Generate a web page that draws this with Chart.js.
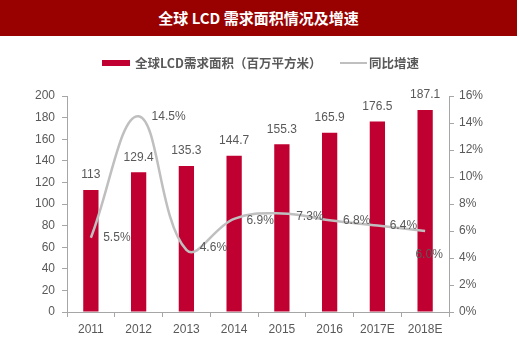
<!DOCTYPE html>
<html><head><meta charset="utf-8">
<script src="https://cdn.jsdelivr.net/npm/chart.js@4/dist/chart.umd.min.js"></script>
<style>
html,body{margin:0;padding:0;background:#fff;}
#wrap{position:relative;width:520px;height:356px;overflow:hidden;}
#c{position:absolute;left:0;top:0;}
#title{position:absolute;left:0;top:0;width:517px;height:36px;background:#990000;color:#fff;
font:bold 15px "Noto Sans CJK SC",sans-serif;text-align:center;line-height:36px;}
#legend{position:absolute;left:0;top:54px;width:520px;height:18px;font:bold 12.5px "Noto Sans CJK SC",sans-serif;color:#595959;}
.it{position:absolute;top:0;line-height:18px;white-space:nowrap;}
.sw{position:absolute;}
</style></head>
<body><div id="wrap"><canvas id="c" width="520" height="356"></canvas>
<div id="title">全球 LCD 需求面积情况及增速</div>
<div id="legend">
<div class="sw" style="left:102px;top:6px;width:28px;height:6px;background:#C00030"></div>
<div class="it" style="left:135px">全球LCD需求面积（百万平方米）</div>
<div class="sw" style="left:340px;top:8px;width:27px;height:2px;background:#BFBFBF"></div>
<div class="it" style="left:369px">同比增速</div>
</div>
</div>
<script>
const categories = ['2011','2012','2013','2014','2015','2016','2017E','2018E'];
const areaValues = [113,129.4,135.3,144.7,155.3,165.9,176.5,187.1];
const growthValues = [5.5,14.5,4.6,6.9,7.3,6.8,6.4,6.0];
const leftTickMax = 200, leftTickStep = 20;
const rightTickMax = 16, rightTickStep = 2;

const textColor = '#595959';
const axisColor = '#A6A6A6';
const tickFont = {family:'"Liberation Sans", Arial, sans-serif', size:12};
const lineLabelOffsets = [[26,0],[30,0],[27,-2],[26,2],[28,3],[27,0],[26,0],[4,24]];

const labelPlugin = {
  id:'labels',
  afterDatasetsDraw(chart){
    const ctx = chart.ctx;
    ctx.save();
    ctx.font = '12px "Liberation Sans", Arial, sans-serif';
    ctx.fillStyle = textColor;
    ctx.textAlign = 'center';
    ctx.textBaseline = 'middle';
    const barMeta = chart.getDatasetMeta(0);
    barMeta.data.forEach((el,i)=>{
      ctx.fillText(String(areaValues[i]), el.x, el.y - 15);
    });
    const lineMeta = chart.getDatasetMeta(1);
    lineMeta.data.forEach((el,i)=>{
      const o = lineLabelOffsets[i];
      ctx.fillText(growthValues[i].toFixed(1)+'%', el.x + o[0], el.y + o[1]);
    });
    ctx.restore();
  }
};

new Chart(document.getElementById('c'), {
  data:{
    labels:categories,
    datasets:[
      {type:'bar', data:areaValues, backgroundColor:'#C00030', yAxisID:'y', order:2,
       categoryPercentage:1, barPercentage:0.32},
      {type:'line', data:growthValues, borderColor:'#BFBFBF', borderWidth:2.5, pointRadius:0,
       tension:0.4, yAxisID:'y2', order:1, fill:false}
    ]
  },
  options:{
    responsive:false, animation:false,
    layout:{padding:{top:96,left:0,right:0,bottom:0}},
    plugins:{legend:{display:false}, tooltip:{enabled:false}},
    scales:{
      x:{
        grid:{display:true, drawOnChartArea:false, drawTicks:true, tickLength:5, color:axisColor, offset:true},
        border:{color:axisColor},
        ticks:{color:textColor, font:tickFont, padding:5, maxRotation:0},
        afterFit(s){ s.height = 44; }
      },
      y:{
        position:'left', min:0, max:leftTickMax,
        grid:{drawOnChartArea:false, tickLength:5, color:axisColor},
        border:{color:axisColor},
        ticks:{stepSize:leftTickStep, color:textColor, font:tickFont, padding:7},
        afterFit(s){ s.width = 67; }
      },
      y2:{
        position:'right', min:0, max:rightTickMax,
        grid:{drawOnChartArea:false, tickLength:5, color:axisColor},
        border:{color:axisColor},
        ticks:{stepSize:rightTickStep, color:textColor, font:tickFont, padding:5, callback:v=>v+'%'},
        afterFit(s){ s.width = 71; }
      }
    }
  },
  plugins:[labelPlugin]
});
</script>
</body></html>
